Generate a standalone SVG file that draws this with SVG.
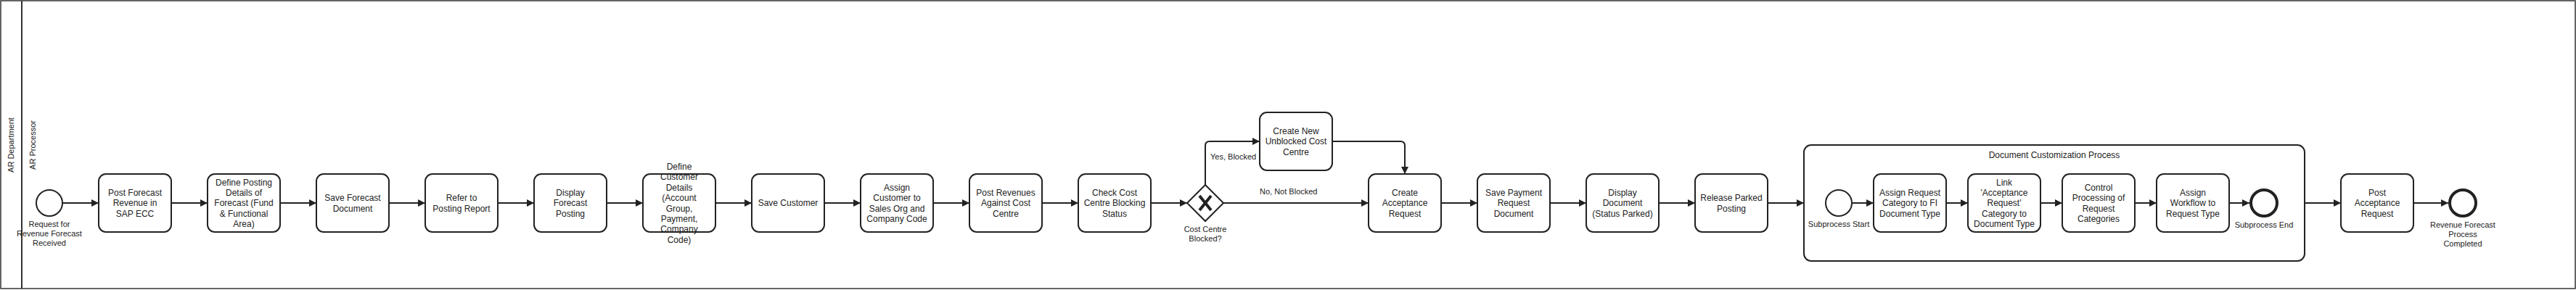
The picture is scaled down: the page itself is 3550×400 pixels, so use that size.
<svg xmlns="http://www.w3.org/2000/svg" width="3550" height="400" viewBox="0 0 3550 400">
<style>
.task{fill:#fff;stroke:#222;stroke-width:2}
.t{font-family:"Liberation Sans",Arial,sans-serif;font-size:12px;fill:#222;text-anchor:middle}
.s{font-family:"Liberation Sans",Arial,sans-serif;font-size:11px;fill:#222;text-anchor:middle}
.sl{font-family:"Liberation Sans",Arial,sans-serif;font-size:11px;fill:#222}
.edge{fill:none;stroke:#222;stroke-width:2;marker-end:url(#arr)}
.start{fill:#fff;stroke:#222;stroke-width:2}
.end{fill:#fff;stroke:#222;stroke-width:4}
</style>
<defs>
<marker id="arr" markerUnits="userSpaceOnUse" viewBox="0 0 10 10" markerWidth="10" markerHeight="10" refX="10" refY="5" orient="auto">
<path d="M0,0 L10,5 L0,10 z" fill="#222"/>
</marker>
</defs>
<rect width="3550" height="400" fill="#fff"/>
<g id="pool">
<rect x="1" y="1" width="3548" height="397" fill="none" stroke="#333" stroke-width="1.5"/>
<line x1="30" y1="1" x2="30" y2="398" stroke="#333" stroke-width="2"/>
<text class="sl" transform="translate(19,200) rotate(-90)" text-anchor="middle">AR Department</text>
<text class="sl" transform="translate(49,200) rotate(-90)" text-anchor="middle">AR Processor</text>
</g>
<g id="subprocess">
<rect x="2486" y="200" width="690" height="160" rx="10" fill="none" stroke="#222" stroke-width="2"/>
<text class="t" x="2831" y="218.3">Document Customization Process</text>
</g>
<g id="connectors">
<line class="edge" x1="86" y1="280" x2="136" y2="280"/>
<line class="edge" x1="236" y1="280" x2="286" y2="280"/>
<line class="edge" x1="386" y1="280" x2="436" y2="280"/>
<line class="edge" x1="536" y1="280" x2="586" y2="280"/>
<line class="edge" x1="686" y1="280" x2="736" y2="280"/>
<line class="edge" x1="836" y1="280" x2="886" y2="280"/>
<line class="edge" x1="986" y1="280" x2="1036" y2="280"/>
<line class="edge" x1="1136" y1="280" x2="1186" y2="280"/>
<line class="edge" x1="1286" y1="280" x2="1336" y2="280"/>
<line class="edge" x1="1436" y1="280" x2="1486" y2="280"/>
<line class="edge" x1="1586" y1="280" x2="1636" y2="280"/>
<path class="edge" d="M1661,255 L1661,201 Q1661,195 1667,195 L1736,195"/>
<text class="sl" x="1668" y="220">Yes, Blocked</text>
<line class="edge" x1="1686" y1="280" x2="1886" y2="280"/>
<text class="sl" x="1736" y="268">No, Not Blocked</text>
<path class="edge" d="M1836,195 L1930,195 Q1936,195 1936,201 L1936,240"/>
<line class="edge" x1="1986" y1="280" x2="2036" y2="280"/>
<line class="edge" x1="2136" y1="280" x2="2186" y2="280"/>
<line class="edge" x1="2286" y1="280" x2="2336" y2="280"/>
<line class="edge" x1="2436" y1="280" x2="2486" y2="280"/>
<line class="edge" x1="2552" y1="280" x2="2582" y2="280"/>
<line class="edge" x1="2682" y1="280" x2="2712" y2="280"/>
<line class="edge" x1="2812" y1="280" x2="2842" y2="280"/>
<line class="edge" x1="2942" y1="280" x2="2972" y2="280"/>
<line class="edge" x1="3072" y1="280" x2="3100" y2="280"/>
<line class="edge" x1="3176" y1="280" x2="3226" y2="280"/>
<line class="edge" x1="3326" y1="280" x2="3374" y2="280"/>
</g>
<g id="start">
<circle class="start" cx="68" cy="280" r="18"/>
<text class="s"><tspan x="68" y="313">Request for</tspan><tspan x="68" y="326">Revenue Forecast</tspan><tspan x="68" y="339">Received</tspan></text>
</g>
<g id="t1"><rect class="task" x="136" y="240" width="100" height="80" rx="10"/>
<text class="t"><tspan x="186" y="269.9">Post Forecast</tspan><tspan x="186" y="284.3">Revenue in</tspan><tspan x="186" y="298.7">SAP ECC</tspan></text></g>
<g id="t2"><rect class="task" x="286" y="240" width="100" height="80" rx="10"/>
<text class="t"><tspan x="336" y="255.5">Define Posting</tspan><tspan x="336" y="269.9">Details of</tspan><tspan x="336" y="284.3">Forecast (Fund</tspan><tspan x="336" y="298.7">&amp; Functional</tspan><tspan x="336" y="313.1">Area)</tspan></text></g>
<g id="t3"><rect class="task" x="436" y="240" width="100" height="80" rx="10"/>
<text class="t"><tspan x="486" y="277.1">Save Forecast</tspan><tspan x="486" y="291.5">Document</tspan></text></g>
<g id="t4"><rect class="task" x="586" y="240" width="100" height="80" rx="10"/>
<text class="t"><tspan x="636" y="277.1">Refer to</tspan><tspan x="636" y="291.5">Posting Report</tspan></text></g>
<g id="t5"><rect class="task" x="736" y="240" width="100" height="80" rx="10"/>
<text class="t"><tspan x="786" y="269.9">Display</tspan><tspan x="786" y="284.3">Forecast</tspan><tspan x="786" y="298.7">Posting</tspan></text></g>
<g id="t6"><rect class="task" x="886" y="240" width="100" height="80" rx="10"/>
<text class="t"><tspan x="936" y="233.9">Define</tspan><tspan x="936" y="248.3">Customer</tspan><tspan x="936" y="262.7">Details</tspan><tspan x="936" y="277.1">(Account</tspan><tspan x="936" y="291.5">Group,</tspan><tspan x="936" y="305.9">Payment,</tspan><tspan x="936" y="320.3">Company</tspan><tspan x="936" y="334.7">Code)</tspan></text></g>
<g id="t7"><rect class="task" x="1036" y="240" width="100" height="80" rx="10"/>
<text class="t"><tspan x="1086" y="284.3">Save Customer</tspan></text></g>
<g id="t8"><rect class="task" x="1186" y="240" width="100" height="80" rx="10"/>
<text class="t"><tspan x="1236" y="262.7">Assign</tspan><tspan x="1236" y="277.1">Customer to</tspan><tspan x="1236" y="291.5">Sales Org and</tspan><tspan x="1236" y="305.9">Company Code</tspan></text></g>
<g id="t9"><rect class="task" x="1336" y="240" width="100" height="80" rx="10"/>
<text class="t"><tspan x="1386" y="269.9">Post Revenues</tspan><tspan x="1386" y="284.3">Against Cost</tspan><tspan x="1386" y="298.7">Centre</tspan></text></g>
<g id="t10"><rect class="task" x="1486" y="240" width="100" height="80" rx="10"/>
<text class="t"><tspan x="1536" y="269.9">Check Cost</tspan><tspan x="1536" y="284.3">Centre Blocking</tspan><tspan x="1536" y="298.7">Status</tspan></text></g>
<g id="gateway">
<path d="M1661,255 L1686,280 L1661,305 L1636,280 z" fill="#fff" stroke="#222" stroke-width="2"/>
<path d="M1653,270 L1669,290 M1669,270 L1653,290" stroke="#222" stroke-width="4" fill="none"/>
<text class="s"><tspan x="1661" y="320">Cost Centre</tspan><tspan x="1661" y="333">Blocked?</tspan></text>
</g>
<g id="t11"><rect class="task" x="1736" y="155" width="100" height="80" rx="10"/>
<text class="t"><tspan x="1786" y="184.9">Create New</tspan><tspan x="1786" y="199.3">Unblocked Cost</tspan><tspan x="1786" y="213.7">Centre</tspan></text></g>
<g id="t12"><rect class="task" x="1886" y="240" width="100" height="80" rx="10"/>
<text class="t"><tspan x="1936" y="269.9">Create</tspan><tspan x="1936" y="284.3">Acceptance</tspan><tspan x="1936" y="298.7">Request</tspan></text></g>
<g id="t13"><rect class="task" x="2036" y="240" width="100" height="80" rx="10"/>
<text class="t"><tspan x="2086" y="269.9">Save Payment</tspan><tspan x="2086" y="284.3">Request</tspan><tspan x="2086" y="298.7">Document</tspan></text></g>
<g id="t14"><rect class="task" x="2186" y="240" width="100" height="80" rx="10"/>
<text class="t"><tspan x="2236" y="269.9">Display</tspan><tspan x="2236" y="284.3">Document</tspan><tspan x="2236" y="298.7">(Status Parked)</tspan></text></g>
<g id="t15"><rect class="task" x="2336" y="240" width="100" height="80" rx="10"/>
<text class="t"><tspan x="2386" y="277.1">Release Parked</tspan><tspan x="2386" y="291.5">Posting</tspan></text></g>
<g id="subStart">
<circle class="start" cx="2534" cy="280" r="18"/>
<text class="s" x="2534" y="313">Subprocess Start</text>
</g>
<g id="t16"><rect class="task" x="2582" y="240" width="100" height="80" rx="10"/>
<text class="t"><tspan x="2632" y="269.9">Assign Request</tspan><tspan x="2632" y="284.3">Category to FI</tspan><tspan x="2632" y="298.7">Document Type</tspan></text></g>
<g id="t17"><rect class="task" x="2712" y="240" width="100" height="80" rx="10"/>
<text class="t"><tspan x="2762" y="255.5">Link</tspan><tspan x="2762" y="269.9">'Acceptance</tspan><tspan x="2762" y="284.3">Request'</tspan><tspan x="2762" y="298.7">Category to</tspan><tspan x="2762" y="313.1">Document Type</tspan></text></g>
<g id="t18"><rect class="task" x="2842" y="240" width="100" height="80" rx="10"/>
<text class="t"><tspan x="2892" y="262.7">Control</tspan><tspan x="2892" y="277.1">Processing of</tspan><tspan x="2892" y="291.5">Request</tspan><tspan x="2892" y="305.9">Categories</tspan></text></g>
<g id="t19"><rect class="task" x="2972" y="240" width="100" height="80" rx="10"/>
<text class="t"><tspan x="3022" y="269.9">Assign</tspan><tspan x="3022" y="284.3">Workflow to</tspan><tspan x="3022" y="298.7">Request Type</tspan></text></g>
<g id="subEnd">
<circle class="end" cx="3120" cy="280" r="18"/>
<text class="s" x="3120" y="314">Subprocess End</text>
</g>
<g id="t20"><rect class="task" x="3226" y="240" width="100" height="80" rx="10"/>
<text class="t"><tspan x="3276" y="269.9">Post</tspan><tspan x="3276" y="284.3">Acceptance</tspan><tspan x="3276" y="298.7">Request</tspan></text></g>
<g id="end">
<circle class="end" cx="3394" cy="280" r="18"/>
<text class="s"><tspan x="3394" y="314">Revenue Forecast</tspan><tspan x="3394" y="327">Process</tspan><tspan x="3394" y="340">Completed</tspan></text>
</g>
</svg>
